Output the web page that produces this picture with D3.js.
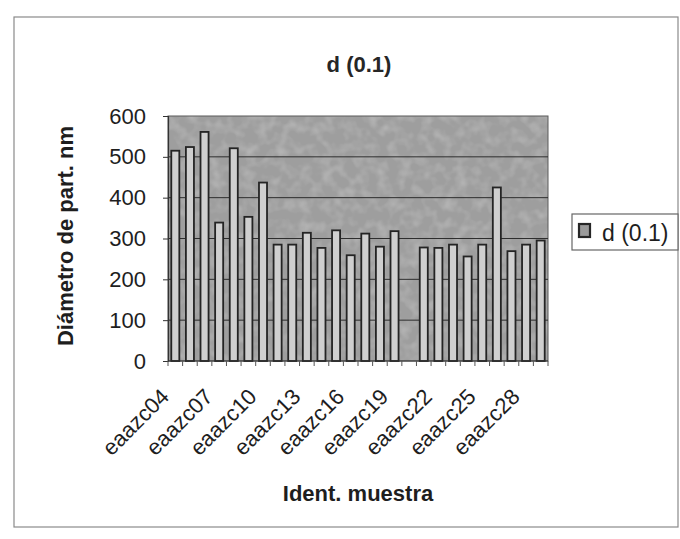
<!DOCTYPE html>
<html>
<head>
<meta charset="utf-8">
<script src="https://cdn.jsdelivr.net/npm/d3@7"></script>
<style>
  html, body { margin: 0; padding: 0; background: #ffffff; }
  svg { display: block; font-family: "Liberation Sans", Arial, sans-serif; }
</style>
</head>
<body>
<svg id="chart" width="680" height="539"></svg>
<script>
// Sample identifiers eaazc04 … eaazc29 (eaazc20 has no measurement)
const categories = [
  "eaazc04","eaazc05","eaazc06","eaazc07","eaazc08","eaazc09","eaazc10",
  "eaazc11","eaazc12","eaazc13","eaazc14","eaazc15","eaazc16","eaazc17",
  "eaazc18","eaazc19","eaazc20","eaazc21","eaazc22","eaazc23","eaazc24",
  "eaazc25","eaazc26","eaazc27","eaazc28","eaazc29"
];
// d(0.1) particle diameter, nm
const d01 = [
  515, 524, 561, 339, 521, 353, 437,
  285, 285, 314, 277, 320, 259, 312,
  280, 318, null, 278, 277, 285, 256,
  285, 425, 269, 285, 295
];
// Every third identifier is labelled on the category axis
const xTickLabels = ["eaazc04","eaazc07","eaazc10","eaazc13","eaazc16","eaazc19","eaazc22","eaazc25","eaazc28"];
const yTicks = [0, 100, 200, 300, 400, 500, 600];

const chartTitle = "d (0.1)";
const xTitle = "Ident. muestra";
const yTitle = "Diámetro de part. nm";
const seriesName = "d (0.1)";

const svg = d3.select("#chart");

// Mottled grey texture for the plot area
const defs = svg.append("defs");
const mottle = defs.append("filter").attr("id", "mottle")
  .attr("x", 0).attr("y", 0).attr("width", 1).attr("height", 1);
mottle.append("feTurbulence")
  .attr("type", "fractalNoise").attr("baseFrequency", 0.09)
  .attr("numOctaves", 2).attr("seed", 7).attr("result", "noise");
mottle.append("feColorMatrix")
  .attr("in", "noise").attr("type", "matrix")
  .attr("values", "0 0 0 0 0.64  0 0 0 0 0.64  0 0 0 0 0.64  0.8 0 0 0 -0.33")
  .attr("result", "spots");
mottle.append("feComposite")
  .attr("in", "spots").attr("in2", "SourceGraphic").attr("operator", "atop");

// Outer chart frame
svg.append("rect")
  .attr("x", 14).attr("y", 17).attr("width", 664).attr("height", 510)
  .attr("fill", "#ffffff").attr("stroke", "#8a8a8a").attr("stroke-width", 1.2);

const plot = { left: 168, right: 548, top: 116, bottom: 361 };

const x = d3.scaleBand()
  .domain(categories)
  .range([plot.left, plot.right])
  .paddingInner(0.45)
  .paddingOuter(0.225);

const y = d3.scaleLinear()
  .domain([0, 600])
  .range([plot.bottom, plot.top]);

// Plot area background
svg.append("rect")
  .attr("x", plot.left).attr("y", plot.top)
  .attr("width", plot.right - plot.left).attr("height", plot.bottom - plot.top)
  .attr("fill", "#9e9e9e")
  .attr("filter", "url(#mottle)");
svg.append("rect")
  .attr("x", plot.left).attr("y", plot.top)
  .attr("width", plot.right - plot.left).attr("height", plot.bottom - plot.top)
  .attr("fill", "none").attr("stroke", "#5a5a5a").attr("stroke-width", 1);

// Horizontal gridlines
svg.append("g")
  .selectAll("line")
  .data(yTicks.filter(v => v > 0 && v < 600))
  .join("line")
  .attr("x1", plot.left).attr("x2", plot.right)
  .attr("y1", d => y(d)).attr("y2", d => y(d))
  .attr("stroke", "#2e2e2e").attr("stroke-width", 1);

// Bars
svg.append("g")
  .selectAll("rect")
  .data(categories.map((c, i) => ({ c, v: d01[i] })).filter(d => d.v != null))
  .join("rect")
  .attr("x", d => x(d.c))
  .attr("width", x.bandwidth())
  .attr("y", d => y(d.v))
  .attr("height", d => y(0) - y(d.v))
  .attr("fill", "#cfcfcf")
  .attr("stroke", "#242424")
  .attr("stroke-width", 1.8);

// Y axis
const yAxis = svg.append("g")
  .attr("transform", `translate(${plot.left},0)`)
  .call(d3.axisLeft(y).tickValues(yTicks).tickSize(5).tickPadding(17));
yAxis.select(".domain").attr("stroke", "#333").attr("stroke-width", 1.2);
yAxis.selectAll(".tick line").attr("stroke", "#333");
yAxis.selectAll(".tick text")
  .attr("font-size", 22).attr("fill", "#1e1e1e")
  .attr("font-family", "Liberation Sans, Arial, sans-serif");

// X axis: ticks sit between categories
const step = x.step();
const boundaries = d3.range(categories.length + 1).map(i => plot.left + i * step);
svg.append("line")
  .attr("x1", plot.left).attr("x2", plot.right)
  .attr("y1", plot.bottom).attr("y2", plot.bottom)
  .attr("stroke", "#333").attr("stroke-width", 1.2);
svg.append("g")
  .selectAll("line")
  .data(boundaries)
  .join("line")
  .attr("x1", d => d).attr("x2", d => d)
  .attr("y1", plot.bottom).attr("y2", plot.bottom + 5)
  .attr("stroke", "#555").attr("stroke-width", 1);

// Rotated category labels
svg.append("g")
  .selectAll("text")
  .data(xTickLabels)
  .join("text")
  .attr("transform", d => `translate(${x(d) + x.bandwidth() / 2 - 5},${plot.bottom + 37}) rotate(-45)`)
  .attr("text-anchor", "end")
  .attr("font-size", 22)
  .attr("fill", "#1e1e1e")
  .text(d => d);

// Titles
svg.append("text")
  .attr("x", 359).attr("y", 72)
  .attr("text-anchor", "middle")
  .attr("font-size", 22).attr("font-weight", "bold").attr("fill", "#262626")
  .text(chartTitle);

svg.append("text")
  .attr("x", 358).attr("y", 501)
  .attr("text-anchor", "middle")
  .attr("font-size", 22).attr("font-weight", "bold").attr("fill", "#1e1e1e")
  .text(xTitle);

svg.append("text")
  .attr("transform", `translate(73,236) rotate(-90)`)
  .attr("text-anchor", "middle")
  .attr("font-size", 22).attr("font-weight", "bold").attr("fill", "#1e1e1e")
  .text(yTitle);

// Legend
const legend = svg.append("g").attr("transform", "translate(572,214)");
legend.append("rect")
  .attr("width", 106).attr("height", 36)
  .attr("fill", "#ffffff").attr("stroke", "#666").attr("stroke-width", 1.2);
legend.append("rect")
  .attr("x", 7).attr("y", 10).attr("width", 11).attr("height", 13)
  .attr("fill", "#9a9a9a").attr("stroke", "#262626").attr("stroke-width", 2.2);
legend.append("text")
  .attr("x", 30).attr("y", 27)
  .attr("font-size", 23).attr("fill", "#1e1e1e")
  .text(seriesName);
</script>
</body>
</html>
